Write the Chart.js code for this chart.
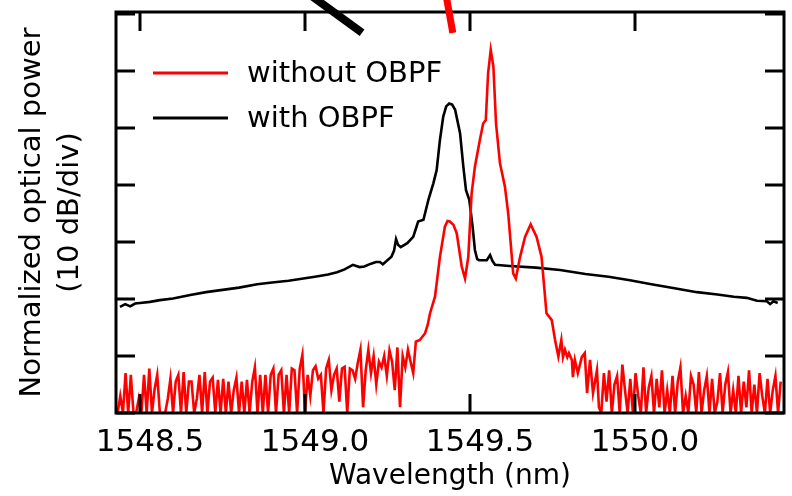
<!DOCTYPE html>
<html>
<head>
<meta charset="utf-8">
<script src="https://cdn.jsdelivr.net/npm/chart.js@4.4.1/dist/chart.umd.min.js"></script>
<style>
  html, body { margin: 0; padding: 0; background: #fff; }
  #wrap { width: 792px; height: 496px; }
</style>
</head>
<body>
<div id="wrap"><canvas id="spectrum"></canvas></div>
<script>
const red = "#ff0000";
const black = "#000000";
const font_family = "'DejaVu Sans', sans-serif";

// x ticks (nm) and y ticks (dB, 10 dB/div, labels hidden)
const x_ticks = [1548.5, 1549.0, 1549.5, 1550.0];
const y_ticks = [-70, -60, -50, -40, -30, -20, -10, 0];

// with OBPF (black)
const black_nm = [1548.439, 1548.455, 1548.470, 1548.485, 1548.500, 1548.530, 1548.560, 1548.600, 1548.652, 1548.700,
  1548.750, 1548.800, 1548.855, 1548.900, 1548.950, 1548.985, 1549.030, 1549.070, 1549.097, 1549.120,
  1549.145, 1549.165, 1549.180, 1549.200, 1549.215, 1549.227, 1549.236, 1549.262, 1549.270, 1549.276,
  1549.282, 1549.290, 1549.310, 1549.328, 1549.337, 1549.343, 1549.359, 1549.374, 1549.389, 1549.399,
  1549.409, 1549.419, 1549.428, 1549.437, 1549.446, 1549.455, 1549.470, 1549.480, 1549.488, 1549.498,
  1549.508, 1549.515, 1549.522, 1549.528, 1549.551, 1549.561, 1549.568, 1549.576, 1549.620, 1549.700,
  1549.773, 1549.850, 1549.920, 1549.985, 1550.050, 1550.120, 1550.188, 1550.250, 1550.300, 1550.339,
  1550.370, 1550.400, 1550.410, 1550.420, 1550.433];
const black_db = [-51.4, -50.9, -51.3, -50.8, -50.7, -50.5, -50.2, -49.9, -49.3, -48.8,
  -48.4, -48.0, -47.4, -47.1, -46.8, -46.5, -46.1, -45.7, -45.3, -44.8,
  -44.0, -44.4, -44.3, -43.8, -43.5, -43.5, -43.9, -42.6, -41.5, -39.5,
  -40.5, -40.9, -40.2, -39.1, -37.5, -36.4, -36.1, -32.6, -29.7, -27.4,
  -22.1, -18.0, -16.2, -15.7, -15.9, -16.8, -20.9, -26.8, -30.9, -32.6,
  -37.3, -41.4, -43.0, -43.2, -43.2, -42.3, -43.3, -44.0, -44.2, -44.5,
  -44.9, -45.6, -46.1, -46.7, -47.4, -48.1, -48.8, -49.2, -49.6, -49.8,
  -50.3, -50.4, -50.9, -50.4, -50.7];

// without OBPF (red): noise floor on the OSA sample grid, then the peaks
const noise_step = 0.008;
const red_left_start = 1548.432;
const red_left_db = [-70, -67, -70, -63, -70, -63.3, -70, -70, -67.5, -70,
  -63.3, -70, -62.2, -70, -65.8, -63.3, -70, -70, -70, -67.5,
  -64, -70, -64.5, -63.3, -70, -62.8, -70, -64.5, -64.5, -70,
  -67.5, -63.3, -70, -62.8, -70, -64.5, -63.8, -70, -64.2, -70,
  -64, -70, -64.5, -70, -66, -63.8, -70, -64.5, -70, -64.2,
  -70, -64.5, -62, -70, -63.3, -70, -63.3, -70, -63.3, -62.2,
  -70, -63.3, -62.5, -70, -63.3, -70, -62.2, -62.5, -70, -62.2,
  -59.8, -70, -63.3, -67, -62.5, -61.8, -64, -63.3, -70, -62.2,
  -60.7, -66, -63.3, -62.2, -68, -62.2, -61.9, -70, -62.2, -62.5,
  -64, -61.2, -58.9, -69, -62.5, -58.9, -63, -60, -65, -61,
  -62, -60, -63.5, -59, -61, -66, -58.5, -69, -60, -62,
  -58.9, -61, -63, -57.5];
const red_peak_nm = [1549.348, 1549.364, 1549.372, 1549.379, 1549.394, 1549.409, 1549.424, 1549.432, 1549.439, 1549.450,
  1549.460, 1549.475, 1549.485, 1549.495, 1549.505, 1549.515, 1549.530, 1549.540, 1549.548, 1549.555,
  1549.563, 1549.571, 1549.579, 1549.591, 1549.606, 1549.616, 1549.631, 1549.639, 1549.652, 1549.667,
  1549.684, 1549.702, 1549.717, 1549.732, 1549.748, 1549.758, 1549.768, 1549.777, 1549.782, 1549.788,
  1549.795, 1549.800, 1549.809, 1549.812, 1549.818, 1549.827, 1549.839, 1549.848, 1549.855, 1549.864,
  1549.873, 1549.885, 1549.891];
const red_peak_db = [-57.2, -56.0, -54.5, -52.5, -49.6, -42.6, -37.3, -36.3, -36.4, -37.0,
  -38.5, -44.3, -46.4, -42.6, -31.5, -26.8, -22.1, -19.2, -18.6, -10.4,
  -6.3, -9.2, -19.2, -26.2, -30.3, -35.0, -45.5, -46.4, -42.6, -39.1,
  -36.9, -39.1, -42.6, -52.5, -53.7, -57.2, -60.1, -57.2, -60.2, -58.9,
  -60.2, -59.5, -60.7, -63.7, -60.7, -63.0, -60.2, -59.5, -66.5, -60.7,
  -66.5, -62.5, -69.0];
const red_right_start = 1549.898;
const red_right_db = [-70, -63, -68, -62.5, -70, -65, -63.5, -70, -61.5, -66,
  -70, -64, -70, -63, -67, -70, -62, -70, -65.5, -63.5,
  -70, -64, -69, -62.5, -70, -66, -70, -63.5, -70, -64.5,
  -62, -70, -67, -70, -63.5, -65, -70, -62.8, -70, -66,
  -63.5, -70, -64, -70, -68, -63, -70, -65, -62.8, -70,
  -66, -70, -63.5, -70, -64.5, -69, -62.5, -70, -65, -70,
  -63, -67, -70, -64, -70, -66, -63.5, -70, -64.5];

// arrow stems pointing at the peaks (data units)
const black_arrow = [[1549.000, 4.0], [1549.173, -3.3]];
const red_arrow = [[1549.427, 3.5], [1549.448, -3.3]];

const black_points = black_nm.map((v, i) => ({ x: v, y: black_db[i] }));
const red_points = [
  ...red_left_db.map((v, i) => ({ x: red_left_start + i * noise_step, y: v })),
  ...red_peak_nm.map((v, i) => ({ x: v, y: red_peak_db[i] })),
  ...red_right_db.map((v, i) => ({ x: red_right_start + i * noise_step, y: v })),
];

const frame_plugin = {
  id: 'frame',
  afterDraw(chart) {
    const { ctx, chartArea: a, scales: { x, y } } = chart;
    const tick_len = 19;
    ctx.save();
    ctx.strokeStyle = black;
    ctx.lineWidth = 3;
    ctx.strokeRect(a.left, a.top, a.right - a.left, a.bottom - a.top);
    ctx.beginPath();
    x_ticks.forEach(v => {
      const px = Math.round(x.getPixelForValue(v));
      ctx.moveTo(px, a.bottom); ctx.lineTo(px, a.bottom - tick_len);
      ctx.moveTo(px, a.top); ctx.lineTo(px, a.top + tick_len);
    });
    y_ticks.forEach(v => {
      const py = Math.round(y.getPixelForValue(v));
      ctx.moveTo(a.left, py); ctx.lineTo(a.left + tick_len, py);
      ctx.moveTo(a.right, py); ctx.lineTo(a.right - tick_len, py);
    });
    ctx.stroke();

    // arrows
    [[black_arrow, black, 8], [red_arrow, red, 7]].forEach(([seg, col, w]) => {
      ctx.beginPath();
      ctx.strokeStyle = col;
      ctx.lineWidth = w;
      ctx.moveTo(x.getPixelForValue(seg[0][0]), y.getPixelForValue(seg[0][1]));
      ctx.lineTo(x.getPixelForValue(seg[1][0]), y.getPixelForValue(seg[1][1]));
      ctx.stroke();
    });

    // legend
    ctx.font = "29px " + font_family;
    ctx.textBaseline = 'middle';
    ctx.fillStyle = black;
    chart.data.datasets.forEach((ds, i) => {
      const ly = a.top + 61 + i * 45;
      ctx.beginPath();
      ctx.strokeStyle = ds.borderColor;
      ctx.lineWidth = 3;
      ctx.moveTo(a.left + 37, ly);
      ctx.lineTo(a.left + 112, ly);
      ctx.stroke();
      ctx.fillText(ds.label, a.left + 131, ly + 1);
    });
    ctx.restore();
  }
};

const spectrum_config = {
  type: 'line',
  data: {
    datasets: [{
      label: 'without OBPF',
      data: red_points,
      borderColor: red,
      borderWidth: 2.6,
      pointRadius: 0,
      order: 0,
    }, {
      label: 'with OBPF',
      data: black_points,
      borderColor: black,
      borderWidth: 2.6,
      pointRadius: 0,
      order: 1,
    }]
  },
  options: {
    animation: false,
    maintainAspectRatio: false,
    responsive: true,
    layout: { padding: { top: 12, right: 8, left: 0, bottom: 0 } },
    plugins: {
      legend: { display: false },
      tooltip: { enabled: false },
    },
    scales: {
      x: {
        type: 'linear',
        min: 1548.427,
        max: 1550.452,
        afterBuildTicks: s => { s.ticks = x_ticks.map(v => ({ value: v })); },
        afterFit: s => { s.height = 83; },
        grid: { display: false, drawTicks: false },
        border: { display: false },
        ticks: {
          color: black,
          font: { family: font_family, size: 31 },
          padding: 11,
          labelOffset: 10,
          maxRotation: 0,
          callback: v => v.toFixed(1),
        },
        title: {
          display: true,
          text: 'Wavelength (nm)',
          color: black,
          font: { family: font_family, size: 28 },
          padding: { top: 0, bottom: 2 },
        },
      },
      y: {
        min: -70,
        max: 0.35,
        afterBuildTicks: s => { s.ticks = y_ticks.map(v => ({ value: v })); },
        afterFit: s => { s.width = 116; },
        grid: { display: false, drawTicks: false },
        border: { display: false },
        ticks: { display: false },
        title: {
          display: true,
          text: ['Normalized optical power', '(10 dB/div)'],
          color: black,
          font: { family: font_family, size: 29, lineHeight: 1.3 },
          padding: { top: 14, bottom: 0 },
        },
      },
    },
  },
  plugins: [frame_plugin],
};

const ctx = document.getElementById('spectrum');
const spectrum_chart = new Chart(ctx, spectrum_config);
</script>
</body>
</html>
